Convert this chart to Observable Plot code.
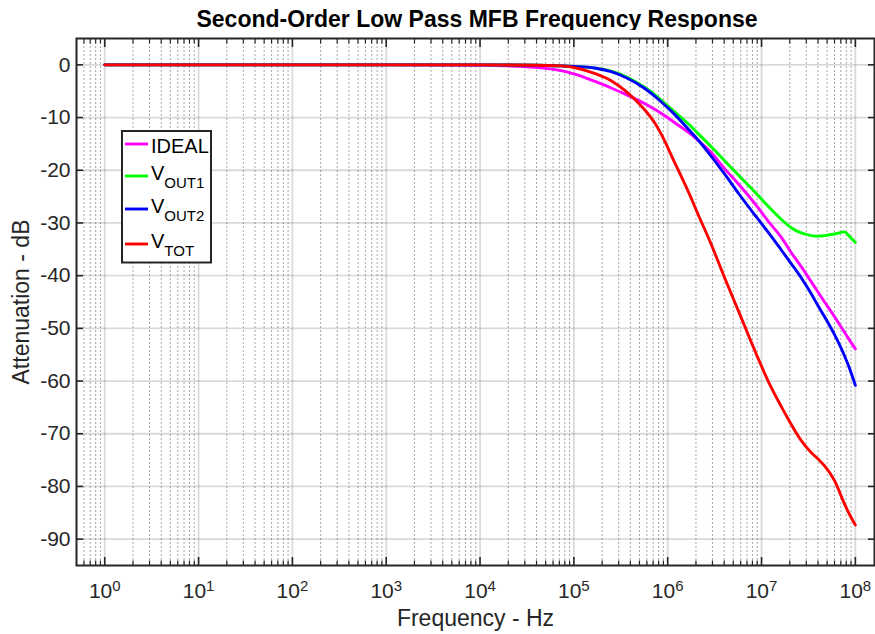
<!DOCTYPE html>
<html><head><meta charset="utf-8">
<script src="https://cdn.jsdelivr.net/npm/d3@7"></script>
<script src="https://cdn.jsdelivr.net/npm/@observablehq/plot@0.6"></script>
<style>
html,body{margin:0;padding:0;background:#fff;}
#wrap{position:relative;width:875px;height:634px;overflow:hidden;font-family:"Liberation Sans",Arial,Helvetica,sans-serif;}
#title{position:absolute;left:76px;width:802px;top:8px;text-align:center;font-weight:bold;font-size:23px;line-height:23px;color:#000;white-space:nowrap;}
#chart{position:absolute;left:0;top:30px;}
#legend{position:absolute;left:0;top:0;pointer-events:none;}
</style></head><body>
<div id="wrap">
<div id="title">Second-Order Low Pass MFB Frequency Response</div>
<div id="chart"></div>
<svg id="legend" width="875" height="634"></svg>
</div>
<script>
// ---- data (frequency in Hz, attenuation in dB) ----
const freq  = [1, 10, 100, 1e3, 3.2e3, 1e4, 2e4, 4e4, 7.3e4, 1e5, 1.66e5, 2.5e5, 3.76e5, 5.6e5, 7.2e5, 8.5e5, 1.17e6, 1.78e6, 2.1e6, 2.9e6, 4e6, 5.8e6, 9.1e6, 1.17e7, 1.62e7, 2.07e7, 2.65e7, 3.4e7, 4e7, 4.7e7, 6e7, 7.7e7, 8.5e7, 1e8];
const ideal = [0, 0, 0, -0.01, -0.03, -0.08, -0.2, -0.5, -1.1, -1.7, -3.1, -4.4, -5.8, -7.3, -8.4, -9.2, -10.9, -13.2, -14.3, -16.6, -19.6, -22.8, -27.0, -29.6, -32.7, -35.6, -38.3, -41.2, -43.1, -45.0, -47.8, -50.8, -52.0, -53.9];
const vout1 = [0, 0, 0, 0, 0, -0.01, -0.03, -0.07, -0.2, -0.3, -0.6, -1.2, -2.4, -4.2, -5.6, -6.7, -8.8, -11.7, -13.0, -15.5, -18.1, -21.1, -24.7, -26.8, -29.3, -30.9, -31.9, -32.4, -32.5, -32.4, -32.1, -31.7, -32.4, -33.7];
const vout2 = [0, 0, 0, 0, 0, -0.01, -0.03, -0.07, -0.2, -0.3, -0.6, -1.3, -2.6, -4.4, -5.9, -7.0, -9.3, -12.8, -14.2, -17.3, -20.6, -24.6, -29.2, -31.7, -35.1, -37.7, -40.4, -43.5, -45.7, -47.8, -51.2, -55.3, -57.2, -60.8];
const vtot  = [0, 0, 0, 0, 0, -0.01, -0.03, -0.07, -0.2, -0.5, -1.6, -3.0, -5.3, -8.4, -10.9, -13.1, -18.3, -25.3, -28.3, -34.0, -40.2, -47.1, -55.5, -59.9, -64.8, -68.2, -71.3, -73.6, -74.8, -76.1, -78.9, -83.4, -85.0, -87.3];

const seriesKeys   = ["IDEAL", "VOUT1", "VOUT2", "VTOT"];
const seriesSubs   = ["", "OUT1", "OUT2", "TOT"];
const seriesColors = ["#ff00ff", "#00ff00", "#0000ff", "#ff0000"];
const seriesValues = [ideal, vout1, vout2, vtot];

const xDomain = [0.5, 1.6e8];
const yDomain = [-95, 5];
const xMajorTicks = [1, 10, 100, 1e3, 1e4, 1e5, 1e6, 1e7, 1e8];
const yTicks = [0, -10, -20, -30, -40, -50, -60, -70, -80, -90];
const minorMultipliers = [2, 3, 4, 5, 6, 7, 8, 9];

// minor log ticks inside domain
const xMinorTicks = [];
for (let e = -1; e <= 8; e++) for (const m of minorMultipliers) {
  const v = m * Math.pow(10, e);
  if (v > xDomain[0] && v < xDomain[1]) xMinorTicks.push(v);
}

const font = '"Liberation Sans", Arial, Helvetica, sans-serif';
const ink = "#262626";

const lineMarks = seriesKeys.map((k, s) =>
  Plot.line(freq.map((f, i) => ({f, db: seriesValues[s][i], series: k})),
    {x: "f", y: "db", stroke: seriesColors[s], strokeWidth: 2.9, curve: "monotone-x"}));

const chart = Plot.plot({
  width: 875, height: 604,
  marginLeft: 76, marginRight: 1, marginTop: 8, marginBottom: 69,
  style: {fontFamily: font, fontSize: "21px", color: ink, background: "white", overflow: "visible"},
  x: {type: "log", domain: xDomain},
  y: {domain: yDomain},
  marks: [
    Plot.gridX(xMinorTicks, {stroke: "#808080", strokeOpacity: 0.7, strokeWidth: 1, strokeDasharray: "2,2"}),
    Plot.gridX(xMajorTicks, {stroke: "#262626", strokeOpacity: 0.17, strokeWidth: 1.8}),
    Plot.gridY(yTicks, {stroke: "#262626", strokeOpacity: 0.17, strokeWidth: 1.8}),
    ...lineMarks,
    Plot.axisX(xMajorTicks, {anchor: "bottom", tickSize: -8, tickPadding: 26, stroke: ink, strokeWidth: 1.6,
      tickFormat: d => "10^" + Math.round(Math.log10(d)),
      label: "Frequency - Hz", labelAnchor: "center", labelArrow: "none", labelOffset: 60}),
    Plot.axisX(xMinorTicks, {anchor: "bottom", tickSize: -4.5, tickFormat: () => "", stroke: ink, strokeWidth: 1.2, label: null}),
    Plot.axisX(xMajorTicks, {anchor: "top", tickSize: -8, tickFormat: () => "", stroke: ink, strokeWidth: 1.6, label: null}),
    Plot.axisX(xMinorTicks, {anchor: "top", tickSize: -4.5, tickFormat: () => "", stroke: ink, strokeWidth: 1.2, label: null}),
    Plot.axisY(yTicks, {anchor: "left", tickSize: -7, tickPadding: 13, stroke: ink, strokeWidth: 1.6,
      tickFormat: d => String(d),
      label: "Attenuation - dB", labelAnchor: "center", labelArrow: "none", labelOffset: 64}),
    Plot.axisY(yTicks, {anchor: "right", tickSize: -7, tickFormat: () => "", stroke: ink, strokeWidth: 1.6, label: null}),
    Plot.frame({stroke: ink, strokeWidth: 2})
  ]
});
document.getElementById("chart").appendChild(chart);

// superscript exponents on x tick labels, and label font sizes
const svg = d3.select(chart);
svg.selectAll("text").each(function() {
  const t = this.textContent;
  const m = /^10\^(-?\d+)$/.exec(t);
  if (m) {
    const el = d3.select(this);
    el.text("10");
    el.append("tspan").attr("dy", "-7").attr("font-size", "15px").text(m[1]);
  }
  if (t === "Frequency - Hz" || t === "Attenuation - dB") {
    d3.select(this).attr("font-size", "23px");
  }
});
svg.selectAll("text").attr("fill", ink);

// legend box inside the axes (page coordinates)
const lg = d3.select("#legend");
lg.append("rect").attr("x", 122).attr("y", 131).attr("width", 89).attr("height", 131.5)
  .attr("fill", "white").attr("stroke", ink).attr("stroke-width", 2);
const rowY = [144, 176, 209, 244];
seriesKeys.forEach((k, i) => {
  lg.append("line").attr("x1", 125).attr("x2", 148).attr("y1", rowY[i]).attr("y2", rowY[i])
    .attr("stroke", seriesColors[i]).attr("stroke-width", 2.9);
  const txt = lg.append("text").attr("x", 151).attr("font-family", font).attr("font-size", "20px").attr("fill", "#000");
  if (seriesSubs[i] === "") {
    txt.attr("y", rowY[i] + 8.5).text(k);
  } else {
    txt.attr("y", rowY[i] + 3.5).text("V");
    txt.append("tspan").attr("dy", "8").attr("font-size", "15px").text(seriesSubs[i]);
  }
});
</script>
</body></html>
